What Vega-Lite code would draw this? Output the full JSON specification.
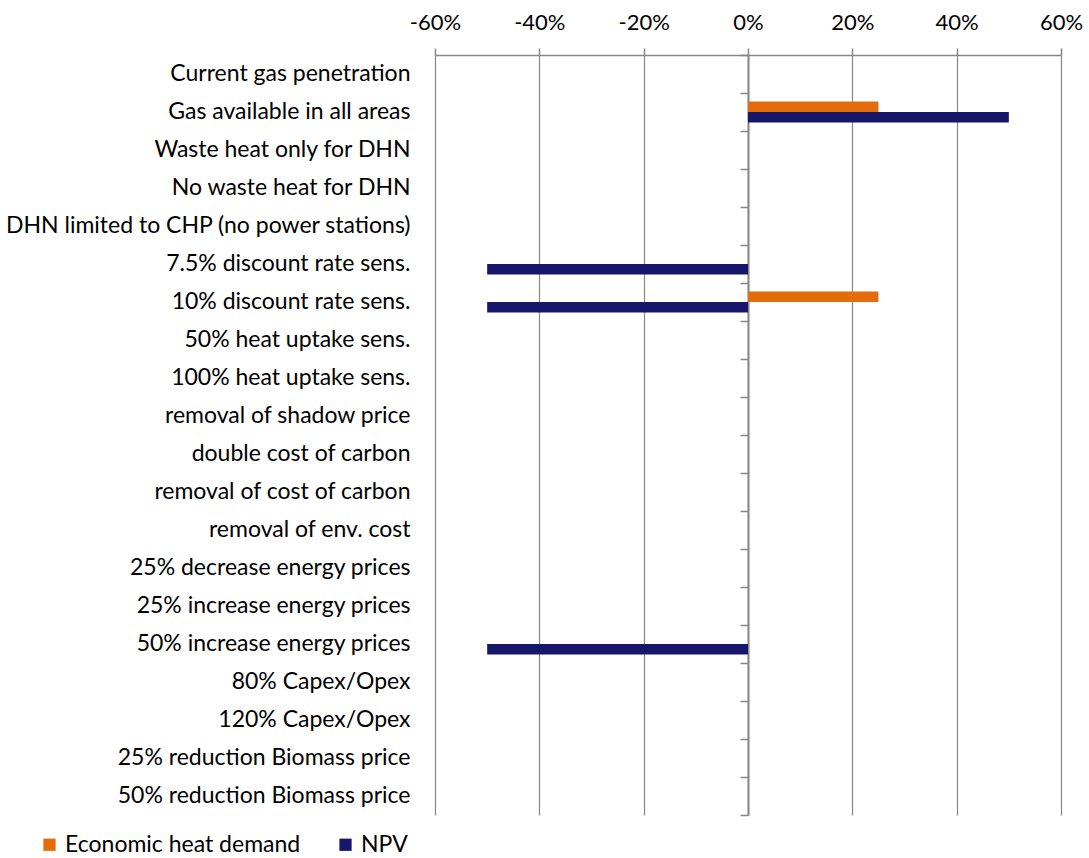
{
  "$schema": "https://vega.github.io/schema/vega-lite/v6.json",
  "width": 626,
  "height": 760,
  "autosize": "none",
  "padding": {"left": 435, "top": 55, "right": 28, "bottom": 43},
  "background": "white",
  "config": {
    "view": {"stroke": null},
    "font": "Lato",
    "axis": {"labelFont": "Lato", "labelColor": "#000000"},
    "legend": {"labelFont": "Lato", "labelColor": "#000000"}
  },
  "data": {
    "values": [
      {"scenario": "Current gas penetration", "series": "Economic heat demand", "change": 0},
      {"scenario": "Current gas penetration", "series": "NPV", "change": 0},
      {"scenario": "Gas available in all areas", "series": "Economic heat demand", "change": 0.25},
      {"scenario": "Gas available in all areas", "series": "NPV", "change": 0.5},
      {"scenario": "Waste heat only for DHN", "series": "Economic heat demand", "change": 0},
      {"scenario": "Waste heat only for DHN", "series": "NPV", "change": 0},
      {"scenario": "No waste heat for DHN", "series": "Economic heat demand", "change": 0},
      {"scenario": "No waste heat for DHN", "series": "NPV", "change": 0},
      {"scenario": "DHN limited to CHP (no power stations)", "series": "Economic heat demand", "change": 0},
      {"scenario": "DHN limited to CHP (no power stations)", "series": "NPV", "change": 0},
      {"scenario": "7.5% discount rate sens.", "series": "Economic heat demand", "change": 0},
      {"scenario": "7.5% discount rate sens.", "series": "NPV", "change": -0.5},
      {"scenario": "10% discount rate sens.", "series": "Economic heat demand", "change": 0.25},
      {"scenario": "10% discount rate sens.", "series": "NPV", "change": -0.5},
      {"scenario": "50% heat uptake sens.", "series": "Economic heat demand", "change": 0},
      {"scenario": "50% heat uptake sens.", "series": "NPV", "change": 0},
      {"scenario": "100% heat uptake sens.", "series": "Economic heat demand", "change": 0},
      {"scenario": "100% heat uptake sens.", "series": "NPV", "change": 0},
      {"scenario": "removal of shadow price", "series": "Economic heat demand", "change": 0},
      {"scenario": "removal of shadow price", "series": "NPV", "change": 0},
      {"scenario": "double cost of carbon", "series": "Economic heat demand", "change": 0},
      {"scenario": "double cost of carbon", "series": "NPV", "change": 0},
      {"scenario": "removal of cost of carbon", "series": "Economic heat demand", "change": 0},
      {"scenario": "removal of cost of carbon", "series": "NPV", "change": 0},
      {"scenario": "removal of env. cost", "series": "Economic heat demand", "change": 0},
      {"scenario": "removal of env. cost", "series": "NPV", "change": 0},
      {"scenario": "25% decrease energy prices", "series": "Economic heat demand", "change": 0},
      {"scenario": "25% decrease energy prices", "series": "NPV", "change": 0},
      {"scenario": "25% increase energy prices", "series": "Economic heat demand", "change": 0},
      {"scenario": "25% increase energy prices", "series": "NPV", "change": 0},
      {"scenario": "50% increase energy prices", "series": "Economic heat demand", "change": 0},
      {"scenario": "50% increase energy prices", "series": "NPV", "change": -0.5},
      {"scenario": "80% Capex/Opex", "series": "Economic heat demand", "change": 0},
      {"scenario": "80% Capex/Opex", "series": "NPV", "change": 0},
      {"scenario": "120% Capex/Opex", "series": "Economic heat demand", "change": 0},
      {"scenario": "120% Capex/Opex", "series": "NPV", "change": 0},
      {"scenario": "25% reduction Biomass price ", "series": "Economic heat demand", "change": 0},
      {"scenario": "25% reduction Biomass price ", "series": "NPV", "change": 0},
      {"scenario": "50% reduction Biomass price ", "series": "Economic heat demand", "change": 0},
      {"scenario": "50% reduction Biomass price ", "series": "NPV", "change": 0}
    ]
  },
  "resolve": {"axis": {"y": "independent"}},
  "layer": [
    {
      "mark": {"type": "bar"},
      "encoding": {
        "y": {
          "field": "scenario",
          "type": "nominal",
          "sort": null,
          "scale": {"paddingInner": 0, "paddingOuter": 0},
          "axis": {
            "title": null,
            "domain": false,
            "ticks": false,
            "labelPadding": 25,
            "labelFontSize": 23,
            "labelLimit": 0
          }
        },
        "yOffset": {
          "field": "series",
          "type": "nominal",
          "sort": ["Economic heat demand", "NPV"],
          "scale": {"paddingInner": 0, "paddingOuter": 0.81}
        },
        "x": {
          "field": "change",
          "type": "quantitative",
          "scale": {"domain": [-0.6, 0.6], "nice": false, "zero": false},
          "axis": {
            "orient": "top",
            "title": null,
            "values": [-0.6, -0.4, -0.2, 0, 0.2, 0.4, 0.6],
            "labelExpr": "(datum.value < 0 ? '-' : '') + format(abs(datum.value), '.0%')",
            "labelFlush": false,
            "grid": true,
            "gridColor": "#878787",
            "gridWidth": 1.2,
            "domainColor": "#878787",
            "domainWidth": 1.5,
            "tickColor": "#878787",
            "tickSize": 7,
            "tickWidth": 1.5,
            "labelPadding": 14,
            "labelFontSize": 22
          }
        },
        "color": {
          "field": "series",
          "type": "nominal",
          "scale": {
            "domain": ["Economic heat demand", "NPV"],
            "range": ["#E46C0A", "#16166A"]
          },
          "legend": {
            "title": null,
            "orient": "none",
            "direction": "horizontal",
            "legendX": -397,
            "legendY": 778,
            "symbolType": "square",
            "symbolSize": 150,
            "symbolStrokeWidth": 0,
            "labelFontSize": 23,
            "labelLimit": 0,
            "columnPadding": 33,
            "labelOffset": 4
          }
        }
      }
    },
    {
      "mark": {"type": "text", "text": ""},
      "encoding": {
        "y": {
          "field": "scenario",
          "type": "nominal",
          "sort": null,
          "axis": {
            "orient": "left",
            "offset": -313,
            "title": null,
            "labels": false,
            "domainColor": "#878787",
            "domainWidth": 2,
            "tickColor": "#878787",
            "tickWidth": 1.5,
            "tickSize": 8,
            "tickBand": "extent"
          }
        }
      }
    }
  ]
}
